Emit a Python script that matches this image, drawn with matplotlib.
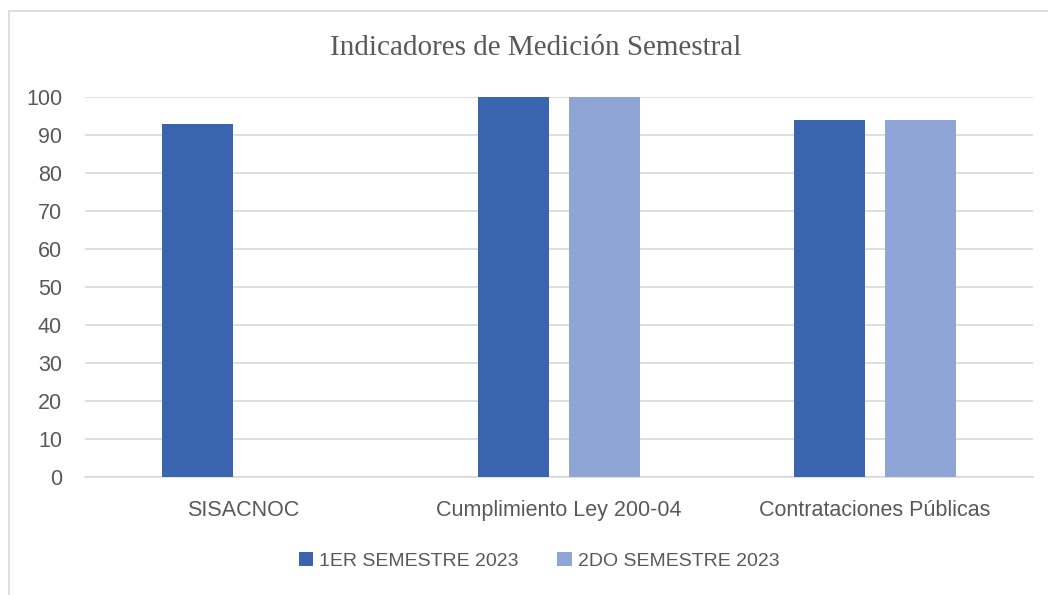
import matplotlib.pyplot as plt
from matplotlib.patches import Rectangle
import numpy as np

categories = ["SISACNOC", "Cumplimiento Ley 200-04", "Contrataciones Públicas"]
series_names = ["1ER SEMESTRE 2023", "2DO SEMESTRE 2023"]
sem1 = [93, 100, 94]
sem2 = [0, 100, 94]
colors = ["#3A64AE", "#8FA5D5"]

fig = plt.figure(figsize=(10.48, 5.95), dpi=100)
fig.patches.append(Rectangle((9 / 1048, -0.05), 1.1, 1 - 11 / 595 + 0.05,
                             transform=fig.transFigure, fill=False,
                             edgecolor="#D9D9D9", linewidth=1.2))

ax = fig.add_axes([85 / 1048, 1 - 477 / 595, 948 / 1048, 380 / 595])

x = np.arange(len(categories))
w = 0.2247
off = 0.144
ax.bar(x - off, sem1, w, color=colors[0], label=series_names[0], zorder=3)
ax.bar(x + off, sem2, w, color=colors[1], label=series_names[1], zorder=3)

ax.set_xlim(-0.5, 2.5)
ax.set_ylim(0, 100)
ax.set_yticks(range(0, 101, 10))
ax.grid(axis="y", color="#D9D9D9", linewidth=1.2, zorder=0)
for s in ["top", "right", "left"]:
    ax.spines[s].set_visible(False)
ax.spines["bottom"].set_color("#D9D9D9")
ax.spines["bottom"].set_linewidth(1.2)
ax.tick_params(axis="both", length=0, labelsize=15.5, labelcolor="#595959")
ax.tick_params(axis="y", pad=16.5)
ax.tick_params(axis="x", pad=16.5)
ax.set_xticks(x)
ax.set_xticklabels(categories, family="Liberation Sans")
for lab in ax.get_yticklabels():
    lab.set_family("Liberation Sans")

fig.text(536 / 1048, 1 - 48 / 595, "Indicadores de Medición Semestral", ha="center",
         va="center", family="Liberation Serif", fontsize=21, color="#595959")

fig.legend(loc="center", bbox_to_anchor=(539 / 1048, 1 - 561 / 595), ncol=2, frameon=False,
           prop={"family": "Liberation Sans", "size": 14}, labelcolor="#595959",
           handlelength=0.75, handleheight=0.75, handletextpad=0.3, columnspacing=2.0)

fig.savefig("out.png", dpi=100)
